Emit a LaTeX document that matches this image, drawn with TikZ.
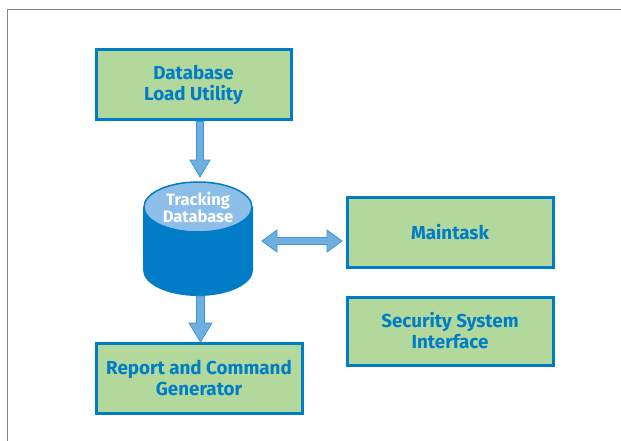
\documentclass[tikz,border=0pt]{standalone}
\usepackage{fontspec}
\setmainfont{Fira Sans}
\usetikzlibrary{shapes.geometric,shapes.arrows}
\definecolor{boxfill}{RGB}{178,216,156}
\definecolor{boxline}{RGB}{0,125,198}
\definecolor{cylbody}{RGB}{0,125,198}
\definecolor{cyltop}{RGB}{140,190,232}
\definecolor{arrfill}{RGB}{110,174,224}
\definecolor{arrline}{RGB}{60,150,215}
\definecolor{framegray}{RGB}{128,133,138}
\tikzset{
  module/.style={draw=boxline, line width=3pt, fill=boxfill, inner sep=0pt,
    font=\bfseries\fontsize{18.8}{21}\selectfont, text=boxline, align=center},
  blockarrow/.style={fill=arrfill, draw=arrline, line width=0.8pt, line join=miter}
}
\begin{document}
\begin{tikzpicture}[x=1pt,y=-1pt]
\useasboundingbox (0,0) rectangle (621,441);
\fill[white] (0,0) rectangle (621,441);
% frame
\draw[framegray, line width=1.5pt] (7.5,441) -- (7.5,9.5) -- (621,9.5);
% boxes
\node[module, minimum width=195pt, minimum height=70pt] (dlu) at (193.5,85) {Database\\Load Utility};
\node[module, minimum width=206pt, minimum height=70pt] (rcg) at (199,378) {Report and Command\\Generator};
\node[module, minimum width=206pt, minimum height=70pt] (mt) at (450,232) {Maintask};
\node[module, minimum width=206pt, minimum height=68pt] (ssi) at (450,331) {Security System\\Interface};
% cylinder
\coordinate (cyl) at (198,207);
\fill[cylbody] (143,207) -- (143,270) arc[start angle=180,end angle=0,x radius=55,y radius=26] -- (253,207) -- cycle;
\draw[cylbody, line width=1.5pt, fill=cyltop] (198,207) ellipse[x radius=54, y radius=25];
\node[font=\bfseries\fontsize{16.5}{17}\selectfont, text=white, align=center] (tdb) at (198,207) {Tracking\\Database};
% arrows
\draw[blockarrow] (196.5,121.5) -- (196.5,160) -- (190,160) -- (200,177) -- (210,160) -- (203.5,160) -- (203.5,121.5) -- cycle;
\draw[blockarrow] (196.5,296) -- (196.5,323) -- (189,323) -- (200.5,342) -- (212,323) -- (204.5,323) -- (204.5,296) -- cycle;
\draw[blockarrow] (262,241) -- (277,230) -- (277,237.5) -- (327,237.5) -- (327,230) -- (342,241) -- (327,252) -- (327,244.5) -- (277,244.5) -- (277,252) -- cycle;
\end{tikzpicture}
\end{document}
